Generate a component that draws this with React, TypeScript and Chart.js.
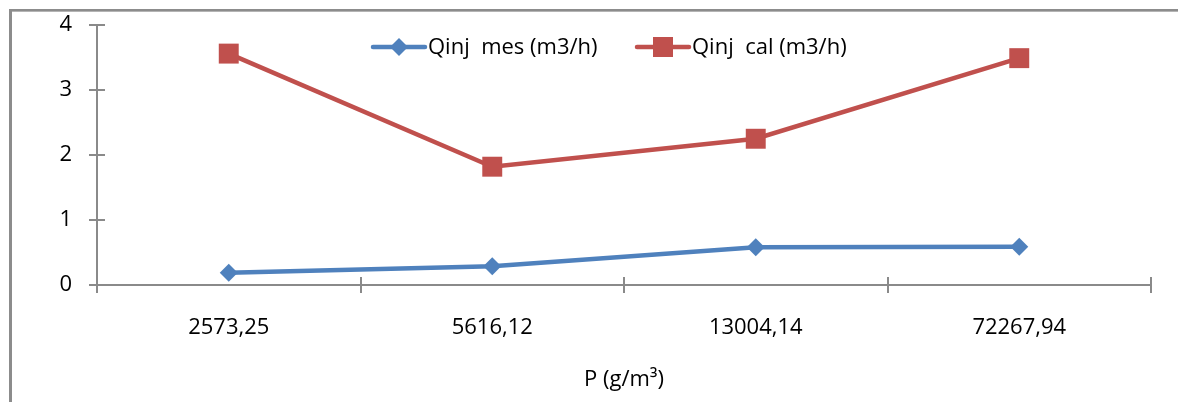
import React, { useEffect, useRef } from "react";
import { Chart, registerables } from "chart.js";

Chart.register(...registerables);

const categories = ["2573,25", "5616,12", "13004,14", "72267,94"];
const qinjMes = [0.19, 0.29, 0.58, 0.59];
const qinjCal = [3.56, 1.82, 2.25, 3.49];
const yTicks = [0, 1, 2, 3, 4];
const seriesNames = ["Qinj  mes (m3/h)", "Qinj  cal (m3/h)"];
const xTitle = "P (g/m\u00B3)";

const BLUE = "#4F81BD";
const RED = "#C0504D";
const AXIS = "#8a8a8a";
const FONT = "'Open Sans', sans-serif";

const framePlugin = {
  id: "frame",
  beforeDraw(chart: any) {
    const { ctx, width, height } = chart;
    ctx.save();
    ctx.fillStyle = "#ffffff";
    ctx.fillRect(0, 0, width, height);
    ctx.fillStyle = "#8c8c8c";
    ctx.fillRect(9, 9, 3, height - 9);
    ctx.fillRect(9, 9, width - 9, 2);
    ctx.fillStyle = "#b4b4b4";
    ctx.fillRect(12, 11, width - 12, 1);
    ctx.restore();
  },
};

const innerTicksPlugin = {
  id: "innerTicks",
  afterDatasetsDraw(chart: any) {
    const { ctx, chartArea, scales } = chart;
    ctx.save();
    ctx.strokeStyle = AXIS;
    ctx.lineWidth = 2;
    const y = scales.y;
    y.ticks.forEach((t: any) => {
      const py = Math.round(y.getPixelForValue(t.value));
      ctx.beginPath();
      ctx.moveTo(chartArea.left, py);
      ctx.lineTo(chartArea.left + 8, py);
      ctx.stroke();
    });
    const x = scales.x;
    for (let i = 0; i <= categories.length; i++) {
      const px = Math.round(x.getPixelForValue(i - 0.5));
      ctx.beginPath();
      ctx.moveTo(px, chartArea.bottom);
      ctx.lineTo(px, chartArea.bottom - 8);
      ctx.stroke();
    }
    ctx.restore();
  },
};

const legendPlugin = {
  id: "customLegend",
  afterDraw(chart: any) {
    const { ctx } = chart;
    const items = [
      { name: seriesNames[0], color: BLUE, shape: "diamond", x0: 373 },
      { name: seriesNames[1], color: RED, shape: "square", x0: 637 },
    ];
    const cy = 47;
    ctx.save();
    ctx.font = `22px ${FONT}`;
    ctx.textBaseline = "middle";
    ctx.fillStyle = "#000";
    items.forEach((it) => {
      ctx.strokeStyle = it.color;
      ctx.lineWidth = 4.5;
      ctx.lineCap = "round";
      ctx.beginPath();
      ctx.moveTo(it.x0, cy);
      ctx.lineTo(it.x0 + 52, cy);
      ctx.stroke();
      ctx.fillStyle = it.color;
      const cx = it.x0 + 26;
      if (it.shape === "diamond") {
        ctx.beginPath();
        ctx.moveTo(cx, cy - 9);
        ctx.lineTo(cx + 9, cy);
        ctx.lineTo(cx, cy + 9);
        ctx.lineTo(cx - 9, cy);
        ctx.closePath();
        ctx.fill();
      } else {
        ctx.fillRect(cx - 10, cy - 10, 20, 20);
      }
      ctx.fillStyle = "#000";
      ctx.fillText(it.name, it.x0 + 55, cy + 1);
    });
    ctx.restore();
  },
};

export default function App() {
  const ref = useRef<HTMLCanvasElement>(null);

  useEffect(() => {
    if (!ref.current) return;
    const chart = new Chart(ref.current, {
      type: "line",
      data: {
        labels: categories,
        datasets: [
          {
            label: seriesNames[0],
            data: qinjMes,
            borderColor: BLUE,
            backgroundColor: BLUE,
            borderWidth: 4.5,
            pointStyle: "rectRot",
            pointRadius: 9,
            pointBorderWidth: 0,
            tension: 0,
          },
          {
            label: seriesNames[1],
            data: qinjCal,
            borderColor: RED,
            backgroundColor: RED,
            borderWidth: 4.5,
            pointStyle: "rect",
            pointRadius: 14.1,
            pointBorderWidth: 0,
            tension: 0,
          },
        ],
      },
      options: {
        responsive: false,
        animation: false,
        devicePixelRatio: 1,
        layout: { padding: { top: 25, right: 27, left: 0, bottom: 0 } },
        plugins: {
          legend: { display: false },
          tooltip: { enabled: false },
        },
        scales: {
          x: {
            offset: true,
            grid: {
              offset: true,
              drawOnChartArea: false,
              drawTicks: true,
              tickLength: 8,
              color: AXIS,
              lineWidth: 2,
            },
            border: { display: true, color: AXIS, width: 2 },
            ticks: {
              color: "#000",
              font: { family: FONT, size: 22 },
              padding: 22,
              maxRotation: 0,
            },
            title: {
              display: true,
              text: xTitle,
              color: "#000",
              font: { family: FONT, size: 22 },
              padding: { top: 0, bottom: 9 },
            },
            afterFit(scale: any) {
              scale.height = 117;
              scale.paddingLeft = 0;
              scale.paddingRight = 0;
            },
          },
          y: {
            min: 0,
            max: 4,
            afterBuildTicks(scale: any) {
              scale.ticks = yTicks.map((v) => ({ value: v }));
            },
            grid: {
              drawOnChartArea: false,
              drawTicks: true,
              tickLength: 8,
              color: AXIS,
              lineWidth: 2,
            },
            border: { display: true, color: AXIS, width: 2 },
            ticks: {
              color: "#000",
              font: { family: FONT, size: 22 },
              padding: 17,
            },
            afterFit(scale: any) {
              scale.width = 97;
              scale.paddingTop = 0;
              scale.paddingBottom = 0;
            },
          },
        },
      },
      plugins: [framePlugin, innerTicksPlugin, legendPlugin],
    });
    return () => chart.destroy();
  }, []);

  return (
    <div style={{ position: "fixed", left: 0, top: 0, width: 1178, height: 402, background: "#fff" }}>
      <canvas ref={ref} width={1178} height={402} style={{ display: "block" }} />
    </div>
  );
}
